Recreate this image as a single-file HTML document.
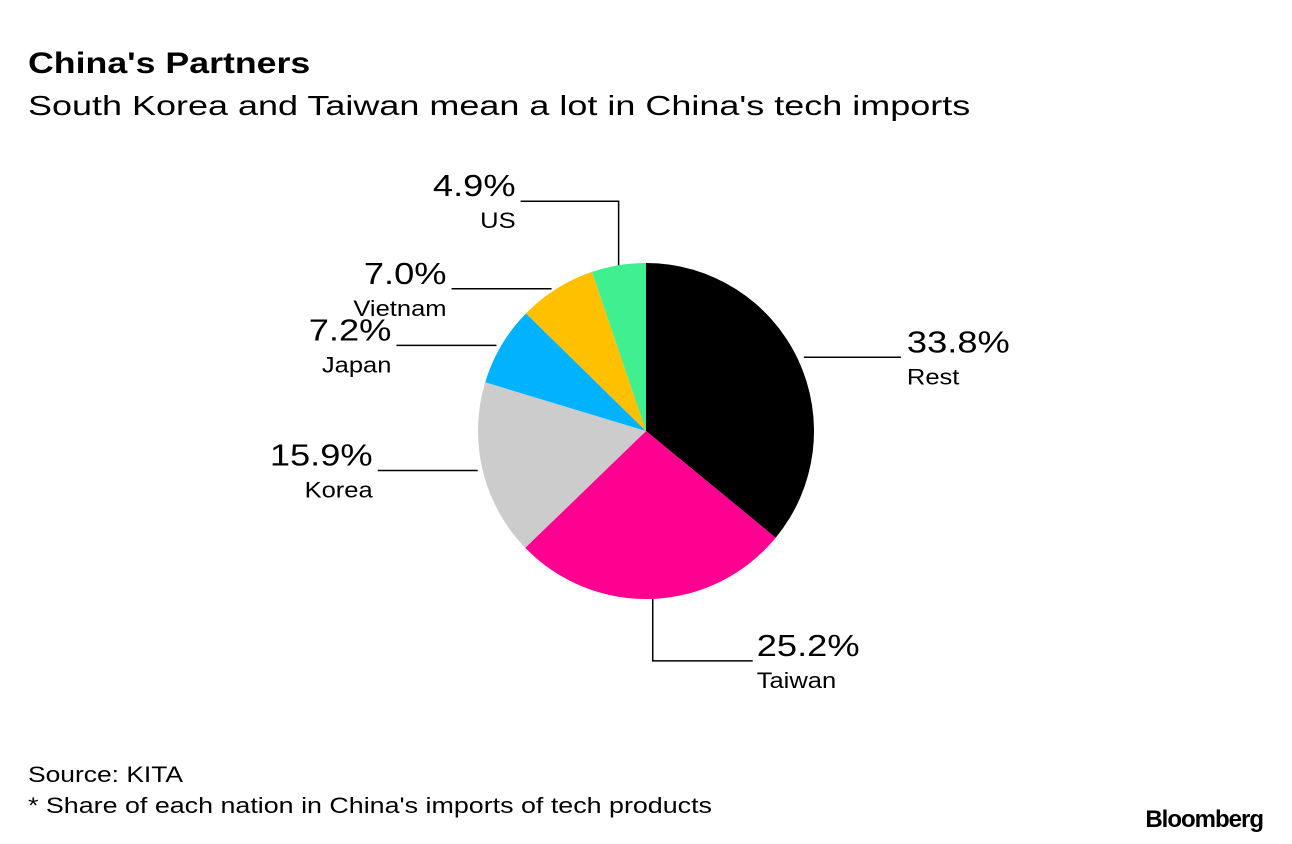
<!DOCTYPE html>
<html><head><meta charset="utf-8"><style>
body{margin:0;background:#fff;width:1292px;height:844px;overflow:hidden;font-family:"Liberation Sans",sans-serif}
svg{display:block}
</style></head><body>
<svg id="c" width="1292" height="844">
<text class="w" data-k="1.19" x="28" y="73" font-size="30" font-weight="bold" fill="#000">China's Partners</text>
<text class="w" data-k="1.285" x="28" y="115" font-size="28" fill="#000">South Korea and Taiwan mean a lot in China's tech imports</text>
<g id="slices"></g><g id="labels"></g>
<text class="w" data-k="1.2" x="28" y="782" font-size="22" fill="#000">Source: KITA</text>
<text class="w" data-k="1.22" x="28" y="813" font-size="22" fill="#000">* Share of each nation in China's imports of tech products</text>
<text x="1263" y="827" font-size="24" font-weight="bold" text-anchor="end" letter-spacing="-1" fill="#000">Bloomberg</text>
</svg>
<script>
const categories=["Rest","Taiwan","Korea","Japan","Vietnam","US"];
const values=[33.8,25.2,15.9,7.2,7.0,4.9];
const colors=["#000000","#ff0090","#cccccc","#00b2ff","#ffc000","#40f090"];
const ns="http://www.w3.org/2000/svg";
const cx=646,cy=431,r=168;
const total=values.reduce((a,b)=>a+b,0);
const S=document.getElementById('slices'),L=document.getElementById('labels');
function pt(a,rr){return [cx+rr*Math.sin(a),cy-rr*Math.cos(a)];}
function mk(t,at,p){const e=document.createElementNS(ns,t);for(const k in at)e.setAttribute(k,at[k]);(p||L).appendChild(e);return e;}
let a0=0;
values.forEach((v,i)=>{
  const a1=a0+v/total*2*Math.PI;
  const [x0,y0]=pt(a0,r),[x1,y1]=pt(a1,r);
  const p=mk('path',{d:`M${cx},${cy}L${x0},${y0}A${r},${r} 0 ${a1-a0>Math.PI?1:0} 1 ${x1},${y1}Z`,fill:colors[i]},S);
  
  
  const am=(a0+a1)/2;
  let [ex,ey]=pt(am,r);
  const right=Math.sin(am)>0;
  let pts,tx,ty,anchor;
  if(Math.abs(Math.sin(am))<0.2){
    if(Math.cos(am)<0){
      const yb=ey+62; pts=`${ex},${ey} ${ex},${yb} ${ex+100},${yb}`; tx=ex+104; ty=yb; anchor='start';
    } else {
      const yt=ey-64; pts=`${ex},${ey} ${ex},${yt} ${ex-98},${yt}`; tx=ex-103; ty=yt; anchor='end';
    }
  } else {
    if(right){ex+=6;ey-=2;} else {ex-=5;}
    const len=right?97:100;
    const x2=right?ex+len:ex-len;
    pts=`${ex},${ey} ${x2},${ey}`; tx=right?x2+6:x2-5; ty=ey; anchor=right?'start':'end';
  }
  const pl=mk('polyline',{points:pts,fill:'none',stroke:'#000','stroke-width':1.5});
  
  
  const t1=mk('text',{x:tx,y:ty-5,'font-size':31,'text-anchor':anchor,fill:'#000','class':'w','data-k':'1.17'});
  t1.textContent=v.toFixed(1)+'%';
  
  
  const t2=mk('text',{x:tx,y:ty+27,'font-size':22,'text-anchor':anchor,fill:'#000','class':'w','data-k':'1.16'});
  t2.textContent=categories[i];
  
  
  a0=a1;
});
document.querySelectorAll('text.w').forEach(t=>{
  const w=t.getComputedTextLength()*parseFloat(t.getAttribute('data-k'));
  t.setAttribute('textLength',w);
  t.setAttribute('lengthAdjust','spacingAndGlyphs');
});
</script>
</body></html>
